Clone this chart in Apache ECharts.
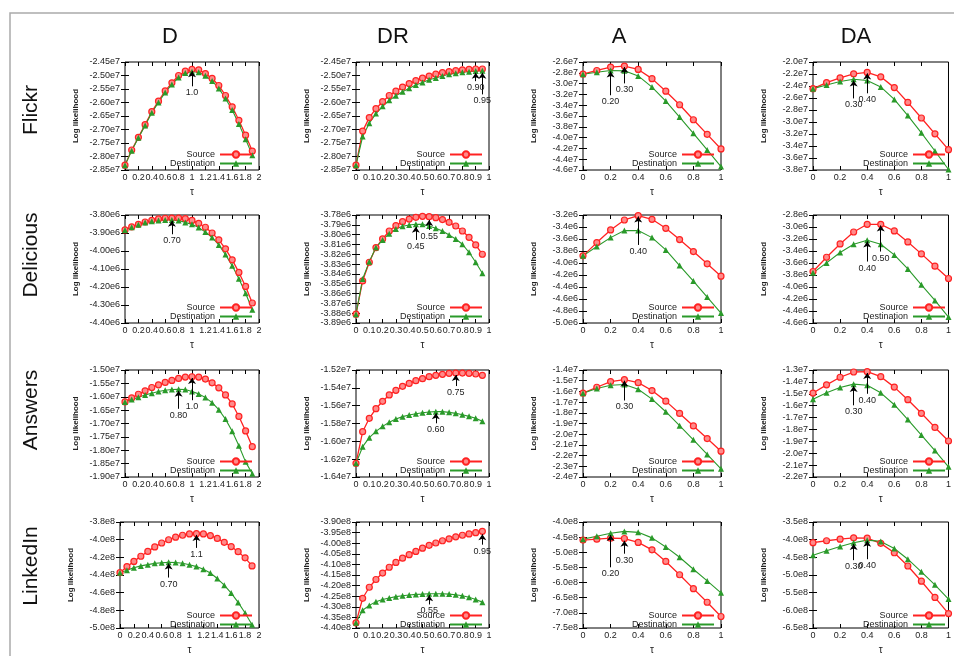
<!DOCTYPE html>
<html>
<head>
<meta charset="utf-8">
<script src="https://cdn.jsdelivr.net/npm/echarts@6.0.0/dist/echarts.min.js"></script>
<style>
html, body { margin: 0; padding: 0; background: #fff; }
#chart { width: 954px; height: 656px; }
</style>
</head>
<body>
<div id="chart"></div>
<script>
// tau values on the x axis
var tauD = [0, 0.1, 0.2, 0.3, 0.4, 0.5, 0.6, 0.7, 0.8, 0.9, 1.0, 1.1, 1.2, 1.3, 1.4, 1.5, 1.6, 1.7, 1.8, 1.9];
var tauDR = [0, 0.05, 0.1, 0.15, 0.2, 0.25, 0.3, 0.35, 0.4, 0.45, 0.5, 0.55, 0.6, 0.65, 0.7, 0.75, 0.8, 0.85, 0.9, 0.95];
var tauA = [0, 0.1, 0.2, 0.3, 0.4, 0.5, 0.6, 0.7, 0.8, 0.9, 1.0];

var datasets = ['Flickr', 'Delicious', 'Answers', 'LinkedIn'];
var methods = ['D', 'DR', 'A', 'DA'];

// log likelihood (mantissa, exponent is in the y spec)
var flickrD_src = [-2.832, -2.776, -2.729, -2.682, -2.634, -2.595, -2.557, -2.527, -2.500, -2.484, -2.477, -2.479, -2.493, -2.511, -2.537, -2.574, -2.616, -2.666, -2.721, -2.780];
var flickrD_dst = [-2.832, -2.779, -2.731, -2.685, -2.638, -2.600, -2.563, -2.533, -2.507, -2.491, -2.486, -2.488, -2.501, -2.520, -2.548, -2.585, -2.628, -2.680, -2.736, -2.795];
var flickrDR_src = [-2.832, -2.706, -2.656, -2.623, -2.597, -2.574, -2.558, -2.543, -2.530, -2.519, -2.510, -2.502, -2.495, -2.489, -2.486, -2.482, -2.479, -2.477, -2.476, -2.476];
var flickrDR_dst = [-2.832, -2.726, -2.677, -2.641, -2.614, -2.592, -2.575, -2.560, -2.547, -2.535, -2.526, -2.516, -2.509, -2.502, -2.495, -2.492, -2.488, -2.486, -2.483, -2.482];
var flickrA_src = [-2.826, -2.757, -2.694, -2.675, -2.738, -2.908, -3.141, -3.392, -3.669, -3.940, -4.210];
var flickrA_dst = [-2.826, -2.789, -2.757, -2.764, -2.858, -3.065, -3.323, -3.619, -3.921, -4.229, -4.537];
var flickrDA_src = [-2.444, -2.343, -2.264, -2.197, -2.174, -2.247, -2.427, -2.674, -2.933, -3.197, -3.461];
var flickrDA_dst = [-2.444, -2.382, -2.326, -2.287, -2.309, -2.416, -2.624, -2.893, -3.180, -3.483, -3.792];

var deliciousD_src = [-3.883, -3.866, -3.852, -3.839, -3.830, -3.822, -3.818, -3.817, -3.817, -3.820, -3.830, -3.846, -3.868, -3.900, -3.938, -3.988, -4.049, -4.119, -4.197, -4.289];
var deliciousD_dst = [-3.883, -3.868, -3.854, -3.842, -3.835, -3.830, -3.828, -3.828, -3.831, -3.841, -3.852, -3.870, -3.894, -3.925, -3.966, -4.020, -4.082, -4.154, -4.235, -4.326];
var deliciousDR_src = [-3.8810, -3.8471, -3.8281, -3.8132, -3.8044, -3.7963, -3.7908, -3.7868, -3.7841, -3.7824, -3.7814, -3.7817, -3.7827, -3.7847, -3.7875, -3.7912, -3.7963, -3.8027, -3.8105, -3.8200];
var deliciousDR_dst = [-3.8810, -3.8451, -3.8275, -3.8132, -3.8054, -3.7990, -3.7942, -3.7915, -3.7902, -3.7895, -3.7895, -3.7912, -3.7936, -3.7963, -3.8003, -3.8044, -3.8098, -3.8180, -3.8281, -3.8393];
var deliciousA_src = [-3.881, -3.660, -3.449, -3.283, -3.211, -3.272, -3.422, -3.610, -3.809, -4.014, -4.219];
var deliciousA_dst = [-3.881, -3.726, -3.577, -3.460, -3.460, -3.577, -3.782, -4.042, -4.302, -4.568, -4.834];
var deliciousDA_src = [-3.742, -3.504, -3.282, -3.083, -2.955, -2.955, -3.066, -3.249, -3.448, -3.653, -3.858];
var deliciousDA_dst = [-3.764, -3.598, -3.426, -3.288, -3.221, -3.288, -3.465, -3.698, -3.963, -4.224, -4.501];

var answersD_src = [-1.6195, -1.6044, -1.5906, -1.5780, -1.5654, -1.5553, -1.5465, -1.5390, -1.5314, -1.5264, -1.5252, -1.5264, -1.5340, -1.5478, -1.5667, -1.5931, -1.6270, -1.6736, -1.7277, -1.7868];
var answersD_dst = [-1.6195, -1.6107, -1.6019, -1.5931, -1.5868, -1.5805, -1.5755, -1.5730, -1.5717, -1.5730, -1.5805, -1.5893, -1.6031, -1.6220, -1.6484, -1.6836, -1.7289, -1.7830, -1.8434, -1.8880];
var answersDR_src = [-1.6247, -1.5892, -1.5742, -1.5634, -1.5551, -1.5480, -1.5428, -1.5383, -1.5350, -1.5320, -1.5297, -1.5275, -1.5260, -1.5249, -1.5237, -1.5234, -1.5234, -1.5237, -1.5245, -1.5260];
var answersDR_dst = [-1.6247, -1.6060, -1.5959, -1.5888, -1.5832, -1.5787, -1.5750, -1.5723, -1.5705, -1.5690, -1.5679, -1.5671, -1.5667, -1.5667, -1.5675, -1.5686, -1.5701, -1.5720, -1.5742, -1.5776];
var answersA_src = [-1.617, -1.561, -1.508, -1.490, -1.518, -1.592, -1.691, -1.806, -1.923, -2.041, -2.159];
var answersA_dst = [-1.617, -1.573, -1.542, -1.536, -1.580, -1.672, -1.790, -1.920, -2.053, -2.189, -2.323];
var answersDA_src = [-1.494, -1.425, -1.361, -1.317, -1.314, -1.356, -1.444, -1.550, -1.664, -1.783, -1.897];
var answersDA_dst = [-1.547, -1.492, -1.447, -1.419, -1.428, -1.492, -1.592, -1.717, -1.847, -1.978, -2.114];

var linkedinD_src = [-4.374, -4.305, -4.246, -4.188, -4.133, -4.082, -4.038, -4.001, -3.972, -3.950, -3.935, -3.932, -3.935, -3.954, -3.986, -4.030, -4.078, -4.136, -4.206, -4.297];
var linkedinD_dst = [-4.374, -4.345, -4.319, -4.297, -4.283, -4.268, -4.261, -4.257, -4.258, -4.267, -4.283, -4.305, -4.335, -4.378, -4.440, -4.515, -4.605, -4.710, -4.830, -4.963];
var linkedinDR_src = [-4.3756, -4.2598, -4.2079, -4.1713, -4.1409, -4.1134, -4.0905, -4.0707, -4.0540, -4.0387, -4.0235, -4.0098, -3.9991, -3.9884, -3.9793, -3.9701, -3.9625, -3.9564, -3.9503, -3.9442];
var linkedinDR_dst = [-4.3756, -4.3162, -4.2933, -4.2765, -4.2659, -4.2582, -4.2521, -4.2476, -4.2445, -4.2415, -4.2400, -4.2384, -4.2384, -4.2384, -4.2400, -4.2430, -4.2476, -4.2552, -4.2659, -4.2780];
var linkedinA_src = [-4.598, -4.566, -4.534, -4.545, -4.673, -4.919, -5.303, -5.741, -6.201, -6.650, -7.120];
var linkedinA_dst = [-4.566, -4.470, -4.374, -4.310, -4.342, -4.524, -4.823, -5.165, -5.560, -5.944, -6.340];
var linkedinDA_src = [-4.086, -4.031, -3.985, -3.949, -3.958, -4.104, -4.370, -4.745, -5.176, -5.634, -6.092];
var linkedinDA_dst = [-4.443, -4.315, -4.196, -4.086, -4.013, -4.049, -4.251, -4.553, -4.910, -5.277, -5.680];

// y axis: min, max, interval, decimals, exponent
var flickrD_y = [-2.85, -2.45, 0.05, 2, 'e7'];
var flickrDR_y = [-2.85, -2.45, 0.05, 2, 'e7'];
var flickrA_y = [-4.6, -2.6, 0.2, 1, 'e7'];
var flickrDA_y = [-3.8, -2.0, 0.2, 1, 'e7'];
var deliciousD_y = [-4.40, -3.80, 0.1, 2, 'e6'];
var deliciousDR_y = [-3.89, -3.78, 0.01, 2, 'e6'];
var deliciousA_y = [-5.0, -3.2, 0.2, 1, 'e6'];
var deliciousDA_y = [-4.6, -2.8, 0.2, 1, 'e6'];
var answersD_y = [-1.90, -1.50, 0.05, 2, 'e7'];
var answersDR_y = [-1.64, -1.52, 0.02, 2, 'e7'];
var answersA_y = [-2.4, -1.4, 0.1, 1, 'e7'];
var answersDA_y = [-2.2, -1.3, 0.1, 1, 'e7'];
var linkedinD_y = [-5.0, -3.8, 0.2, 1, 'e8'];
var linkedinDR_y = [-4.40, -3.90, 0.05, 2, 'e8'];
var linkedinA_y = [-7.5, -4.0, 0.5, 1, 'e8'];
var linkedinDA_y = [-6.5, -3.5, 0.5, 1, 'e8'];

// x axis per column: min, max, interval
var xSpec = [[0, 2, 0.2], [0, 1, 0.1], [0, 1, 0.2], [0, 1, 0.2]];

// arrows: tau, arrow tip, arrow base, text
var flickrD_notes = [[1.0, -2.484, -2.540, '1.0']];
var flickrDR_notes = [[0.90, -2.490, -2.521, '0.90'], [0.95, -2.490, -2.570, '0.95']];
var flickrA_notes = [[0.2, -2.775, -3.216, '0.20'], [0.3, -2.694, -2.996, '0.30']];
var flickrDA_notes = [[0.3, -2.31, -2.607, '0.30'], [0.4, -2.19, -2.522, '0.40']];
var deliciousD_notes = [[0.7, -3.832, -3.907, '0.70']];
var deliciousDR_notes = [[0.45, -3.7919, -3.8054, '0.45'], [0.55, -3.7851, -3.7953, '0.55']];
var deliciousA_notes = [[0.4, -3.225, -3.699, '0.40']];
var deliciousDA_notes = [[0.4, -3.24, -3.576, '0.40'], [0.5, -2.975, -3.409, '0.50']];
var answersD_notes = [[0.8, -1.578, -1.645, '0.80'], [1.0, -1.530, -1.613, '1.0']];
var answersDR_notes = [[0.75, -1.5256, -1.538, '0.75'], [0.6, -1.5686, -1.5798, '0.60']];
var answersA_notes = [[0.3, -1.50, -1.685, '0.30']];
var answersDA_notes = [[0.3, -1.435, -1.597, '0.30'], [0.4, -1.325, -1.50, '0.40']];
var linkedinD_notes = [[1.1, -3.946, -4.093, '1.1'], [0.7, -4.270, -4.429, '0.70']];
var linkedinDR_notes = [[0.95, -3.958, -4.007, '0.95'], [0.55, -4.245, -4.289, '0.55']];
var linkedinA_notes = [[0.2, -4.43, -5.496, '0.20'], [0.3, -4.62, -5.047, '0.30']];
var linkedinDA_notes = [[0.3, -4.12, -4.58, '0.30'], [0.4, -4.03, -4.553, '0.40']];

var panels = [
  [tauD, flickrD_src, flickrD_dst, flickrD_y, flickrD_notes],
  [tauDR, flickrDR_src, flickrDR_dst, flickrDR_y, flickrDR_notes],
  [tauA, flickrA_src, flickrA_dst, flickrA_y, flickrA_notes],
  [tauA, flickrDA_src, flickrDA_dst, flickrDA_y, flickrDA_notes],
  [tauD, deliciousD_src, deliciousD_dst, deliciousD_y, deliciousD_notes],
  [tauDR, deliciousDR_src, deliciousDR_dst, deliciousDR_y, deliciousDR_notes],
  [tauA, deliciousA_src, deliciousA_dst, deliciousA_y, deliciousA_notes],
  [tauA, deliciousDA_src, deliciousDA_dst, deliciousDA_y, deliciousDA_notes],
  [tauD, answersD_src, answersD_dst, answersD_y, answersD_notes],
  [tauDR, answersDR_src, answersDR_dst, answersDR_y, answersDR_notes],
  [tauA, answersA_src, answersA_dst, answersA_y, answersA_notes],
  [tauA, answersDA_src, answersDA_dst, answersDA_y, answersDA_notes],
  [tauD, linkedinD_src, linkedinD_dst, linkedinD_y, linkedinD_notes],
  [tauDR, linkedinDR_src, linkedinDR_dst, linkedinDR_y, linkedinDR_notes],
  [tauA, linkedinA_src, linkedinA_dst, linkedinA_y, linkedinA_notes],
  [tauA, linkedinDA_src, linkedinDA_dst, linkedinDA_y, linkedinDA_notes]
];

// layout
var colLeft = [125, 356, 583, 813];
var colRight = [259, 489, 721, 952];
var rowTop = [62, 215, 370, 522];
var rowBottom = [170, 323, 477, 631];
var colTitleX = [170, 393, 619, 856];
var rowLabelY = [110, 255, 410, 566];

var RED = '#f22';
var GREEN = '#2a9a2a';
var FONT = '"Liberation Sans", Arial, sans-serif';

var grids = [], xAxes = [], yAxes = [], series = [], legends = [];

var tickStyle = { inside: true, length: 4, lineStyle: { color: '#000', width: 1 } };

panels.forEach(function (p, k) {
  var r = Math.floor(k / 4), c = k % 4;
  var left = (r === 3 && c === 0) ? 120 : colLeft[c];
  var top = rowTop[r];
  var w = colRight[c] - left;
  var h = rowBottom[r] - top;
  grids.push({ left: left, top: top, width: w, height: h, show: true, borderColor: '#000', borderWidth: 1, backgroundColor: 'transparent' });

  var xs = xSpec[c];
  var ys = p[3];
  xAxes.push({
    gridIndex: k, type: 'value', position: 'bottom', min: xs[0], max: xs[1], interval: xs[2],
    name: 'τ', nameLocation: 'middle', nameGap: 17,
    nameTextStyle: { fontSize: 10, color: '#222' },
    axisLine: { show: false }, axisTick: tickStyle, splitLine: { show: false },
    axisLabel: { fontSize: 9, color: '#222', margin: 3, showMinLabel: true, showMaxLabel: true }
  });
  xAxes.push({
    gridIndex: k, type: 'value', position: 'top', min: xs[0], max: xs[1], interval: xs[2],
    axisLine: { show: false }, axisTick: tickStyle, splitLine: { show: false }, axisLabel: { show: false }
  });
  yAxes.push({
    gridIndex: k, type: 'value', position: 'left', min: ys[0], max: ys[1], interval: ys[2],
    name: 'Log likelihood', nameLocation: 'middle', nameGap: 45,
    nameTextStyle: { fontSize: 8, fontWeight: 'bold', color: '#222' },
    axisLine: { show: false }, axisTick: tickStyle, splitLine: { show: false },
    axisLabel: {
      fontSize: 9, color: '#222', margin: 5,
      formatter: (function (d, e) { return function (v) { return v.toFixed(d) + e; }; })(ys[3], ys[4])
    }
  });
  yAxes.push({
    gridIndex: k, type: 'value', position: 'right', min: ys[0], max: ys[1], interval: ys[2],
    axisLine: { show: false }, axisTick: tickStyle, splitLine: { show: false }, axisLabel: { show: false }
  });

  var xi = 2 * k, yi = 2 * k;
  var notes = p[4].map(function (n) {
    return [{ coord: [n[0], n[2]], name: n[3] }, { coord: [n[0], n[1]] }];
  });

  series.push({
    name: 'Source', type: 'line', xAxisIndex: xi, yAxisIndex: yi,
    data: p[0].map(function (t, i) { return [t, p[1][i]]; }),
    symbol: 'circle', symbolSize: 6, showAllSymbol: true,
    lineStyle: { color: RED, width: 1.3 },
    itemStyle: { color: '#ff8a8a', borderColor: RED, borderWidth: 1.2 },
    emphasis: { disabled: true }, silent: true,
    markLine: {
      silent: true, animation: false,
      symbol: ['none', 'arrow'], symbolSize: 6,
      lineStyle: { color: '#000', type: 'solid', width: 1 },
      label: { show: true, position: 'start', distance: 2, fontSize: 9, color: '#222', formatter: '{b}' },
      emphasis: { disabled: true },
      data: notes
    }
  });
  series.push({
    name: 'Destination', type: 'line', xAxisIndex: xi, yAxisIndex: yi,
    data: p[0].map(function (t, i) { return [t, p[2][i]]; }),
    symbol: 'triangle', symbolSize: 6, showAllSymbol: true,
    lineStyle: { color: GREEN, width: 1.1 },
    itemStyle: { color: GREEN },
    emphasis: { disabled: true }, silent: true
  });

  legends.push({
    orient: 'vertical', align: 'right',
    right: 954 - (colRight[c] - 6), top: rowBottom[r] - 20,
    padding: 0, itemGap: 0, itemWidth: 32, itemHeight: 8,
    selectedMode: false,
    textStyle: { fontSize: 9, color: '#222', lineHeight: 9, fontFamily: FONT },
    data: ['Source', 'Destination']
  });
});

var graphics = [
  { type: 'rect', shape: { x: 10, y: 13, width: 980, height: 680 }, style: { fill: 'none', stroke: '#aaa', lineWidth: 1.5 }, z: -1 }
];
methods.forEach(function (m, i) {
  graphics.push({ type: 'text', x: colTitleX[i], y: 37, style: { text: m, fontSize: 22, fontFamily: FONT, fill: '#111', align: 'center', verticalAlign: 'middle' } });
});
datasets.forEach(function (d, i) {
  graphics.push({ type: 'text', x: 31, y: rowLabelY[i], rotation: Math.PI / 2, style: { text: d, fontSize: 21, fontFamily: FONT, fill: '#111', align: 'center', verticalAlign: 'middle' } });
});

var chart = echarts.init(document.getElementById('chart'), null, { renderer: 'canvas' });
chart.setOption({
  animation: false,
  backgroundColor: '#fff',
  textStyle: { fontFamily: FONT },
  grid: grids,
  xAxis: xAxes,
  yAxis: yAxes,
  legend: legends,
  series: series,
  graphic: graphics
});
</script>
</body>
</html>
